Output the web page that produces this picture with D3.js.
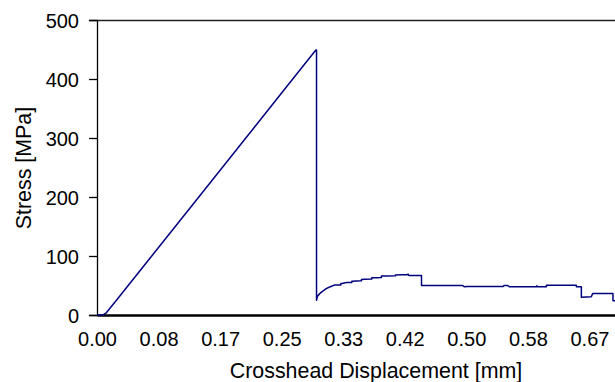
<!DOCTYPE html>
<html>
<head>
<meta charset="utf-8">
<script src="https://cdn.jsdelivr.net/npm/d3@7"></script>
<style>
  html, body { margin: 0; padding: 0; background: #fff; }
  svg { display: block; }
  text { font-family: "Liberation Sans", Arial, Helvetica, sans-serif; fill: #000; }
</style>
</head>
<body>
<svg id="chart" width="615" height="382"></svg>
<script>
// Crosshead displacement [mm]
const displacement = [
  0, 0.005, 0.009, 0.012, 0.0263, 0.0741, 0.1257, 0.1996, 0.265, 0.2963, 0.2972,
  0.2972, 0.2985, 0.303, 0.3107, 0.316, 0.322, 0.330, 0.330, 0.3378, 0.345,
  0.345, 0.3513, 0.358, 0.358, 0.3626, 0.372, 0.372, 0.3784, 0.385, 0.385,
  0.3919, 0.404, 0.404, 0.4211, 0.4211, 0.422, 0.4393, 0.4393, 0.495, 0.497,
  0.501, 0.550, 0.551, 0.556, 0.558, 0.595, 0.5955, 0.596, 0.6084, 0.6084,
  0.6489, 0.6489, 0.6557, 0.6557, 0.6692, 0.6710, 0.6985, 0.6985, 0.720
];
// Stress [MPa]
const stress = [
  0, 0, 1, 3, 25, 100, 181, 297, 400, 449, 449,
  25, 32, 38, 45, 48, 51, 51, 53, 55, 55,
  57, 57.6, 58, 60, 60.5, 61, 63, 63, 63.5, 66,
  66, 66.5, 68, 68.5, 69.5, 67, 67, 50, 50, 48,
  48.5, 48.5, 50, 50, 48, 48, 49.5, 48, 48, 50.3,
  50.3, 48, 48, 30, 31, 36.5, 36.5, 24, 24
];
const xTickValues = [0, 1/12, 2/12, 3/12, 4/12, 5/12, 6/12, 7/12, 8/12];
const xTickLabels = ["0.00", "0.08", "0.17", "0.25", "0.33", "0.42", "0.50", "0.58", "0.67"];
const yTickValues = [0, 100, 200, 300, 400, 500];
const yTickLabels = ["0", "100", "200", "300", "400", "500"];

const svg = d3.select("#chart");
const mLeft = 97, mTop = 20, mBottom = 315, mRight = 651;

const x = d3.scaleLinear().domain([0, 0.75]).range([mLeft, mRight]);
const y = d3.scaleLinear().domain([0, 500]).range([mBottom, mTop]);

// top border of plot area
svg.append("line")
  .attr("x1", mLeft).attr("x2", mRight).attr("y1", mTop + 0.5).attr("y2", mTop + 0.5)
  .attr("stroke", "#222").attr("stroke-width", 1.3);

// Y axis
const yAxis = d3.axisLeft(y).tickValues(yTickValues)
  .tickFormat((d, i) => yTickLabels[i]).tickSize(8).tickPadding(10);
const gy = svg.append("g").attr("transform", `translate(${mLeft},0)`).call(yAxis);
gy.select(".domain").attr("stroke", "#000").attr("stroke-width", 1.3);
gy.selectAll(".tick line").attr("stroke", "#000").attr("stroke-width", 1.3);
gy.selectAll(".tick text").attr("font-size", 20).attr("dy", "0.36em")
  .style("font-family", '"Liberation Sans", Arial, sans-serif');

// X axis
const xAxis = d3.axisBottom(x).tickValues(xTickValues)
  .tickFormat((d, i) => xTickLabels[i]).tickSize(0).tickPadding(17);
const gx = svg.append("g").attr("transform", `translate(0,${mBottom})`).call(xAxis);
gx.select(".domain").attr("stroke", "#000").attr("stroke-width", 2.6);
gx.selectAll(".tick text").attr("font-size", 20)
  .style("font-family", '"Liberation Sans", Arial, sans-serif');

// data line
const pts = displacement.map((d, i) => [d, stress[i]]);
const line = d3.line().x(d => x(d[0])).y(d => y(d[1]));
svg.append("path").datum(pts)
  .attr("d", line)
  .attr("fill", "none")
  .attr("stroke", "#00007f")
  .attr("stroke-width", 1.5)
  .attr("stroke-linejoin", "round");

// axis titles
svg.append("text")
  .attr("x", 376).attr("y", 378)
  .attr("text-anchor", "middle").attr("font-size", 21.4)
  .text("Crosshead Displacement [mm]");

svg.append("text")
  .attr("transform", "translate(31,168) rotate(-90)")
  .attr("text-anchor", "middle").attr("font-size", 21.4)
  .text("Stress [MPa]");
</script>
</body>
</html>
